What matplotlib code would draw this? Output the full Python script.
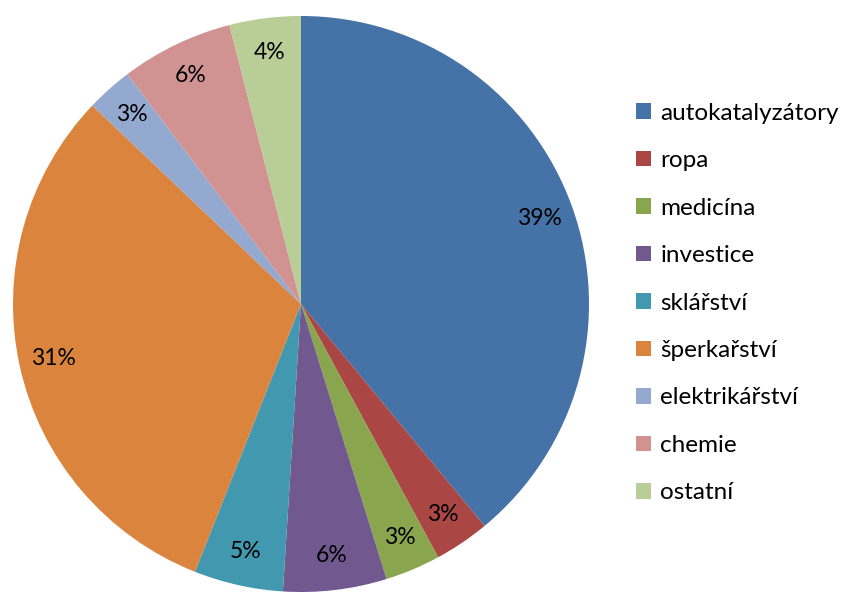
import matplotlib
matplotlib.use("Agg")
import matplotlib.pyplot as plt

# podíly jednotlivých odvětví (v %)
categories = ["autokatalyzátory", "ropa", "medicína", "investice", "sklářství",
              "šperkařství", "elektrikářství", "chemie", "ostatní"]
shares = [39.0, 3.1, 3.1, 5.8, 5.0, 31.1, 2.6, 6.3, 4.0]
colors = ["#4572A7", "#AA4643", "#89A54E", "#71588F", "#4198AF",
          "#DB843D", "#93A9CF", "#D19392", "#B9CD96"]

plt.rcParams["font.family"] = ["Lato", "DejaVu Sans"]

fig = plt.figure(figsize=(8.43, 5.92), dpi=100)
ax = fig.add_axes([13 / 843, 0, 576 / 843, 576 / 592])

wedges, texts, autotexts = ax.pie(
    shares,
    colors=colors,
    startangle=90,
    counterclock=False,
    autopct=lambda p: f"{p:.0f}%",
    pctdistance=0.88,
    wedgeprops={"linewidth": 0},
    textprops={"fontsize": 16.5, "color": "black"},
)
ax.set_xlim(-1, 1)
ax.set_ylim(-1, 1)
ax.set_aspect("equal")

fig.legend(
    wedges,
    categories,
    loc="center left",
    bbox_to_anchor=(624 / 843, 289 / 592),
    frameon=False,
    fontsize=17.5,
    borderpad=0,
    handlelength=0.62,
    handleheight=0.62,
    handletextpad=0.37,
    labelspacing=1.09,
)

fig.savefig("out.png", dpi=100)
